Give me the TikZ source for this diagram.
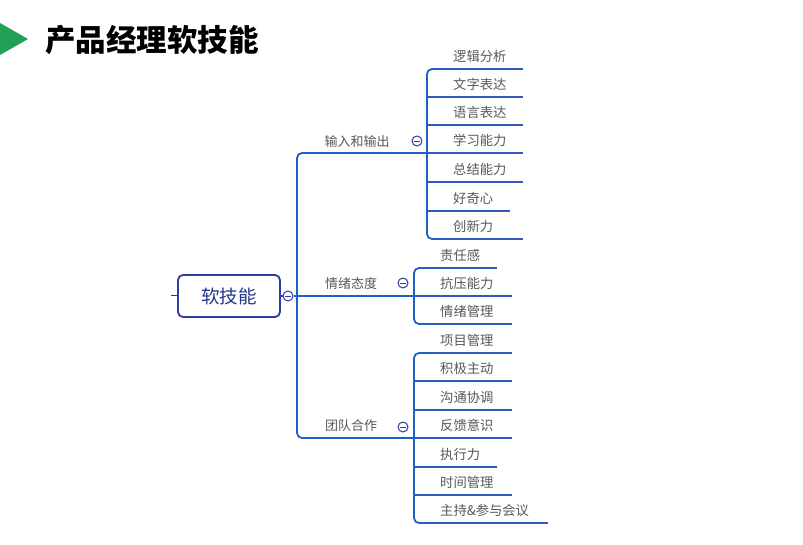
\documentclass[tikz,border=0pt]{standalone}
\usepackage{fontspec}
\setmainfont{Noto Sans CJK SC}
\begin{document}
\begin{tikzpicture}[x=1pt,y=-1pt,
  bline/.style={draw=lineblue,line width=1.8pt},
  uline/.style={draw=ulblue,line width=1.6pt},
  leafbase/.style={inner sep=0pt,anchor=south west,align=left,minimum height=24pt,
     text=leafgray,font=\fontsize{13.3}{14}\selectfont},
  leaf/.style={leafbase,
     append after command={(\tikzlastnode.south west) edge[uline] (\tikzlastnode.south east)}},
  leafend/.style={leafbase,
     append after command={([xshift=5pt]\tikzlastnode.south west) edge[uline] (\tikzlastnode.south east)}},
  blabel/.style={inner sep=0pt,text=leafgray,font=\fontsize{13}{14}\selectfont},
  fold/.style={circle,draw=rootblue,fill=white,line width=1pt,minimum size=10pt,inner sep=0pt,
     path picture={\draw[rootblue,line width=0.9pt] ([xshift=-2.6pt]path picture bounding box.center) -- ([xshift=2.6pt]path picture bounding box.center);}},
]
\definecolor{lineblue}{HTML}{1C62C4}
\definecolor{ulblue}{HTML}{2F5CBA}
\definecolor{rootblue}{HTML}{2C3DA6}
\definecolor{leafgray}{HTML}{595959}
\definecolor{titlegreen}{HTML}{20A056}
\useasboundingbox[fill=white] (0,0) rectangle (803,545);

% title
\fill[titlegreen] (0,23) -- (28,39) -- (0,55) -- cycle;
\node[anchor=west,inner sep=0pt,font=\fontsize{30.5}{31}\selectfont\bfseries] (title) at (45,40) {产品经理软技能};

% root
\node[draw=rootblue,line width=1.8pt,rounded corners=5pt,minimum width=102pt,minimum height=42pt,
      inner sep=0pt,text=rootblue!85!black,font=\fontsize{18.5}{19}\selectfont] (root) at (229,296) {软技能};
\coordinate (tick) at (171,296);
\draw[rootblue,line width=1pt] (tick) -- (root.west);

% group 1 leaves (bracket x = 427)
\node[leafend,text width=96pt] (l11) at (427,69) {\hspace*{26pt}逻辑分析};
\node[leaf,text width=96pt] (l12) at (427,97) {\hspace*{26pt}文字表达};
\node[leaf,text width=96pt] (l13) at (427,125) {\hspace*{26pt}语言表达};
\node[leaf,text width=96pt] (l14) at (427,153) {\hspace*{26pt}学习能力};
\node[leaf,text width=96pt] (l15) at (427,182) {\hspace*{26pt}总结能力};
\node[leaf,text width=83pt] (l16) at (427,211) {\hspace*{26pt}好奇心};
\node[leafend,text width=96pt] (l17) at (427,239) {\hspace*{26pt}创新力};
\draw[bline,rounded corners=5pt] ([xshift=12pt]l11.south west) -- (l11.south west) -- (l17.south west) -- ([xshift=12pt]l17.south west);

% group 2 leaves (bracket x = 414)
\node[leafend,text width=83pt] (l21) at (414,268) {\hspace*{26pt}责任感};
\node[leaf,text width=98pt] (l22) at (414,296) {\hspace*{26pt}抗压能力};
\node[leafend,text width=98pt] (l23) at (414,324) {\hspace*{26pt}情绪管理};
\draw[bline,rounded corners=5pt] ([xshift=12pt]l21.south west) -- (l21.south west) -- (l23.south west) -- ([xshift=12pt]l23.south west);

% group 3 leaves (bracket x = 414)
\node[leafend,text width=98pt] (l31) at (414,353) {\hspace*{26pt}项目管理};
\node[leaf,text width=98pt] (l32) at (414,381) {\hspace*{26pt}积极主动};
\node[leaf,text width=98pt] (l33) at (414,410) {\hspace*{26pt}沟通协调};
\node[leaf,text width=98pt] (l34) at (414,438) {\hspace*{26pt}反馈意识};
\node[leaf,text width=83pt] (l35) at (414,467) {\hspace*{26pt}执行力};
\node[leaf,text width=98pt] (l36) at (414,495) {\hspace*{26pt}时间管理};
\node[leafend,text width=134pt] (l37) at (414,523) {\hspace*{26pt}主持\&参与会议};
\draw[bline,rounded corners=5pt] ([xshift=12pt]l31.south west) -- (l31.south west) -- (l37.south west) -- ([xshift=12pt]l37.south west);

% main branches
\coordinate (j1) at (297,153);
\coordinate (j3) at (297,438);
\draw[bline,rounded corners=5pt] (l14.south west) -- (j1) -- (j3) -- (l34.south west);
\node[fold] (c0) at (288,296) {};
\draw[bline] (c0.east) -- (l22.south west);
\draw[rootblue,line width=1.2pt] (root.east) -- (c0.west);

% branch labels
\node[blabel] (b1) at (357,142) {输入和输出};
\node[blabel] (b2) at (351,284) {情绪态度};
\node[blabel] (b3) at (351,426) {团队合作};

% fold markers
\node[fold] (c1) at (417,141) {};
\node[fold] (c2) at (403,283) {};
\node[fold] (c3) at (403,427) {};
\end{tikzpicture}
\end{document}
